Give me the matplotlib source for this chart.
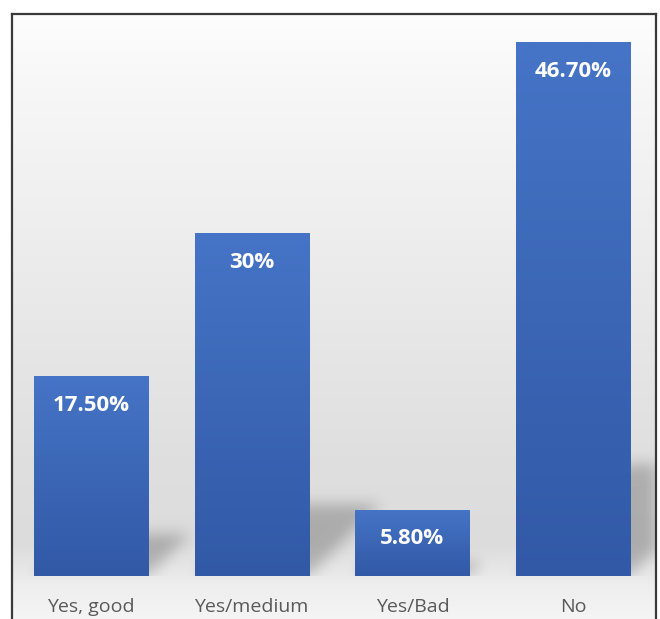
import numpy as np
import matplotlib
matplotlib.use("Agg")
import matplotlib.pyplot as plt
from matplotlib.path import Path
from matplotlib.colors import LinearSegmentedColormap

plt.rcParams["font.family"] = ["Open Sans", "DejaVu Sans"]

categories = ["Yes, good", "Yes/medium", "Yes/Bad", "No"]
shares = [17.5, 30.0, 5.8, 46.7]
value_labels = ["17.50%", "30%", "5.80%", "46.70%"]

W, H = 660, 619
fig = plt.figure(figsize=(W / 100, H / 100), dpi=100)
fig.patch.set_facecolor("white")

# chart panel: grey vertical gradient + dark frame (bottom runs off the canvas)
bg = fig.add_axes([12 / W, -0.02, 644 / W, 1 - 14 / H + 0.02])
bg_cmap = LinearSegmentedColormap.from_list(
    "panel",
    [(0.0, "#fdfdfd"), (0.14, "#f6f6f6"), (0.47, "#e9e9e9"),
     (0.72, "#dfdfdf"), (0.86, "#dcdcdc"), (0.93, "#eeeeee"), (1.0, "#f7f7f7")],
)
bg.imshow(np.linspace(0, 1, 400)[:, None], aspect="auto", cmap=bg_cmap,
          extent=[0, 1, 0, 1], vmin=0, vmax=1)
bg.set_xlim(0, 1)
bg.set_ylim(0, 1)
bg.set_xticks([])
bg.set_yticks([])
for side in ["top", "left", "right"]:
    bg.spines[side].set_color("#3a3a3a")
    bg.spines[side].set_linewidth(1.6)
bg.spines["bottom"].set_visible(False)

# plotting area, baseline at y=576 px
ax = fig.add_axes([12 / W, (H - 576) / H, 644 / W, (576 - 14) / H])
ax.set_facecolor("none")
px_x, px_y = 644, 562
xlim = (-79 / 160.7, (644 - 79) / 160.7)
ylim = (0, 562 / 11.43)

x = np.arange(len(categories))
width = 0.71
bars = ax.bar(x, shares, width=width, color="none", zorder=4)

# vertical gradient fill inside each bar
bar_cmap = LinearSegmentedColormap.from_list("bar", ["#3159a6", "#4674c6"])
grad = np.linspace(0, 1, 256)[:, None]
for b in bars:
    x0, h = b.get_x(), b.get_height()
    im = ax.imshow(grad, extent=[x0, x0 + width, 0, h], origin="lower",
                   aspect="auto", cmap=bar_cmap, zorder=4)
    im.set_clip_path(b)

# soft perspective shadows leaning up and to the right
k = 0.21
sx = px_x / (xlim[1] - xlim[0])
sy = px_y / (ylim[1] - ylim[0])
gx = np.linspace(xlim[0], xlim[1], px_x)
gy = np.linspace(ylim[0], ylim[1], px_y)
GX, GY = np.meshgrid(gx, gy)
pts = np.column_stack([GX.ravel(), GY.ravel()])
mask = np.zeros(GX.size)
for b in bars:
    x0, h = b.get_x(), b.get_height()
    dy = k * h
    dx = dy * sy / sx
    poly = Path([(x0, 0), (x0 + width, 0), (x0 + width + dx, dy), (x0 + dx, dy), (x0, 0)])
    mask = np.maximum(mask, poly.contains_points(pts).astype(float))
mask = mask.reshape(GX.shape)
sig = 7
t = np.arange(-3 * sig, 3 * sig + 1)
kern = np.exp(-t ** 2 / (2 * sig ** 2))
kern /= kern.sum()
mask = np.apply_along_axis(lambda r: np.convolve(r, kern, mode="same"), 1, mask)
mask = np.apply_along_axis(lambda c: np.convolve(c, kern, mode="same"), 0, mask)
shadow = np.zeros(GX.shape + (4,))
shadow[..., 3] = mask * 0.22
ax.imshow(shadow, extent=[xlim[0], xlim[1], ylim[0], ylim[1]], origin="lower",
          aspect="auto", zorder=2, interpolation="bilinear")

for xi, v, lab in zip(x, shares, value_labels):
    ax.annotate(lab, xy=(xi, v), xytext=(0, -21), textcoords="offset points",
                ha="center", va="center", color="white", fontsize=16,
                fontweight="bold", zorder=5)

ax.set_xlim(*xlim)
ax.set_ylim(*ylim)
ax.set_xticks(x, categories)
ax.set_yticks([])
ax.tick_params(axis="x", length=0, pad=16, labelsize=14, labelcolor="#595959")
for s in ax.spines.values():
    s.set_visible(False)

fig.savefig("out.png", dpi=100)
